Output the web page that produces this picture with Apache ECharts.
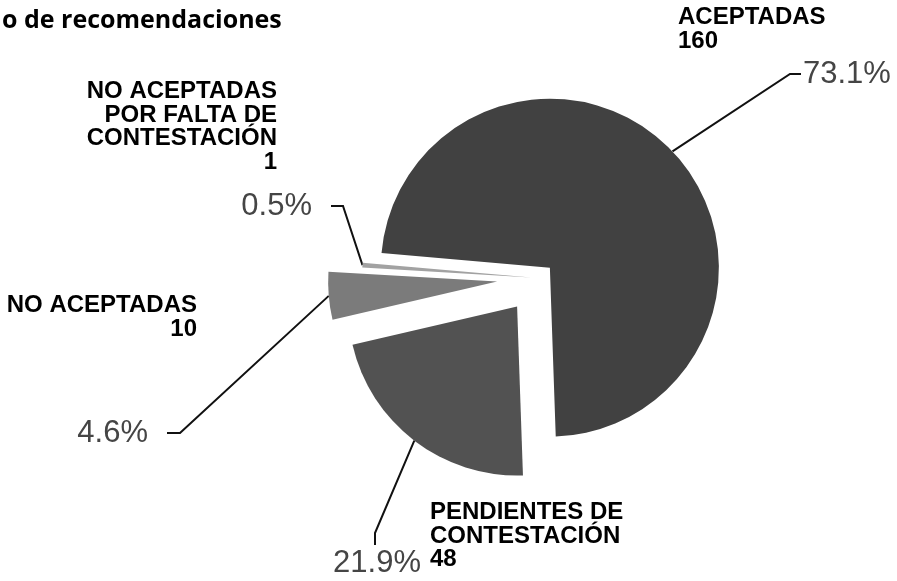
<!DOCTYPE html>
<html>
<head>
<meta charset="utf-8">
<script src="https://cdn.jsdelivr.net/npm/echarts@6/dist/echarts.min.js"></script>
<style>
  html, body { margin: 0; padding: 0; background: #fff; }
  #chart { width: 897px; height: 581px; }
</style>
</head>
<body>
<div id="chart"></div>
<script>
// data
const categories = ['ACEPTADAS', 'PENDIENTES DE CONTESTACIÓN', 'NO ACEPTADAS', 'NO ACEPTADAS POR FALTA DE CONTESTACIÓN']
const nameLines = [['ACEPTADAS'], ['PENDIENTES DE', 'CONTESTACIÓN'], ['NO ACEPTADAS'], ['NO ACEPTADAS', 'POR FALTA DE', 'CONTESTACIÓN']]
const counts = [160, 48, 10, 1]
const titleText = 'o de recomendaciones'

const total = counts.reduce((a, b) => a + b, 0)

const CENTER = [539, 278]
const RADIUS = 169
const START = 175
const SLICE_COLORS = ['#414141', '#525252', '#7b7b7b', '#a2a2a2']
const OFFSETS = [15, 36, 42, 8]   // how far each slice is pulled out
const BOLD = 'bold 24px "Liberation Sans", Arial, sans-serif'
const CLEAR = 'rgba(0,0,0,0)'

// where the percentage labels sit and how their leader lines bend
const pctSpots = [
  { x: 803, y: 74, align: 'left', bend: [790, 74], end: [801, 74] },
  { x: 377, y: 563, align: 'center', bend: [375, 533], end: [375, 545] },
  { x: 148, y: 433, align: 'right', bend: [180, 433], end: [167, 433] },
  { x: 312, y: 206, align: 'right', bend: [343, 206], end: [331, 206] }
]
// name blocks
const nameSpots = [
  { x: 678, y: 6, align: 'left' },
  { x: 430, y: 501, align: 'left' },
  { x: 197, y: 294, align: 'right' },
  { x: 277, y: 80, align: 'right' }
]

// one series per slice so every slice gets its own pull-out distance
const sliceSeries = counts.map((_, k) => ({
  type: 'pie',
  center: CENTER,
  radius: RADIUS,
  startAngle: START,
  clockwise: true,
  silent: true,
  selectedMode: 'multiple',
  selectedOffset: OFFSETS[k],
  label: { show: false },
  labelLine: { show: false },
  data: counts.map((v, i) => ({
    name: categories[i],
    value: v,
    selected: i === k,
    itemStyle: { color: i === k ? SLICE_COLORS[i] : CLEAR, borderWidth: 0 },
    select: { itemStyle: { color: i === k ? SLICE_COLORS[i] : CLEAR, borderWidth: 0 } }
  }))
}))

// invisible copy that only carries the percentage labels and leader lines
const labelSeries = {
  type: 'pie',
  center: CENTER,
  radius: RADIUS,
  startAngle: START,
  clockwise: true,
  silent: true,
  avoidLabelOverlap: false,
  label: {
    show: true,
    position: 'outside',
    formatter: p => (p.value / total * 100).toFixed(1) + '%',
    fontFamily: '"Liberation Sans", Arial, sans-serif',
    fontSize: 31,
    color: '#454545'
  },
  labelLine: { show: true, lineStyle: { color: '#111', width: 2 } },
  labelLayout: function (p) {
    const s = pctSpots[p.dataIndex]
    const out = { x: s.x, y: s.y, align: s.align, verticalAlign: 'middle', hideOverlap: false }
    if (p.labelLinePoints) {
      const p0 = p.labelLinePoints[0]
      const k = (RADIUS + OFFSETS[p.dataIndex]) / RADIUS
      const start = [CENTER[0] + (p0[0] - CENTER[0]) * k, CENTER[1] + (p0[1] - CENTER[1]) * k]
      out.labelLinePoints = [start, s.bend, s.end]
    }
    return out
  },
  data: counts.map((v, i) => ({ name: categories[i], value: v, itemStyle: { color: CLEAR } }))
}

const chart = echarts.init(document.getElementById('chart'))

chart.setOption({
  animation: false,
  backgroundColor: '#fff',
  title: {
    text: titleText,
    left: -3,
    top: 3,
    textStyle: { fontFamily: '"Gill Sans", "Open Sans", sans-serif', fontWeight: 'bold', fontSize: 25, color: '#000' }
  },
  graphic: nameSpots.map((s, i) => ({
    type: 'text',
    x: s.x,
    y: s.y,
    silent: true,
    style: {
      text: nameLines[i].concat(String(counts[i])).join('\n'),
      font: BOLD,
      fill: '#000',
      lineHeight: 23.5,
      align: s.align,
      textAlign: s.align,
      verticalAlign: 'top',
      textVerticalAlign: 'top'
    }
  })),
  series: sliceSeries.concat([labelSeries])
})
</script>
</body>
</html>
